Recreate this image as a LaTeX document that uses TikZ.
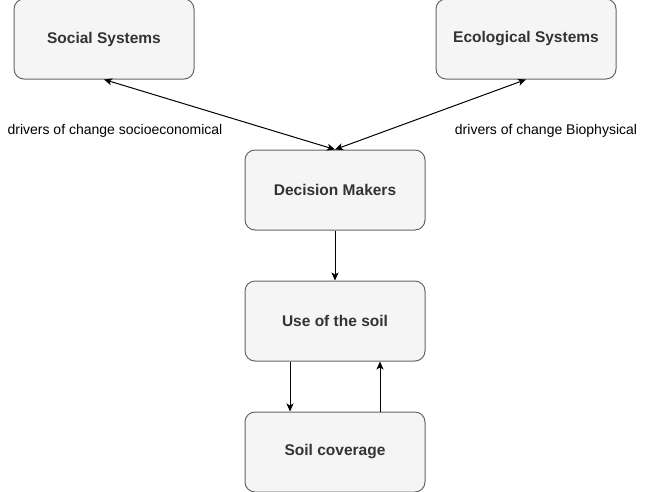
\documentclass[tikz,border=0pt]{standalone}
\usepackage{fontspec}
\setmainfont{Liberation Sans}
\usetikzlibrary{positioning,arrows.meta}
\definecolor{boxfill}{HTML}{F5F5F5}
\definecolor{boxline}{HTML}{666666}
\definecolor{boxtext}{HTML}{333333}

\begin{document}
\begin{tikzpicture}[
        x=1pt, y=1pt,
        node distance=50pt,
        box/.style={
            rectangle,
            draw=boxline,
            fill=boxfill,
            line width=1pt,
            text=boxtext,
            align=center,
            rounded corners=10pt,
            font=\bfseries\fontsize{15.5}{18}\selectfont,
            minimum width=180pt,
            minimum height=80pt,
            inner sep=3pt,
            anchor=center
        },
        driver/.style={
            text=black,
            font=\fontsize{14}{16}\selectfont,
            inner sep=0pt
        },
        arrow/.style={
            ->,
            >={Stealth[length=8pt,width=7pt,inset=2pt]},
            line width=1pt,
            color=black
        }
    ]
        \useasboundingbox (0,0) rectangle (646,-491);

        % Centre column
        \node[box] (decision) at (335,-190) {Decision Makers};
        \node[box] (use) [below=of decision] {Use of the soil};
        \node[box] (coverage) [below=of use] {Soil coverage};

        % Top row
        \node[box] (social) [above left=70pt and 50pt of decision] {Social Systems};
        \node[box] (ecological) [above right=70pt and 10pt of decision] {Ecological Systems};

        % Drivers
        \node[driver] (socio) at (115,-131) {drivers of change socioeconomical};
        \node[driver] (bio) at (546,-131) {drivers of change Biophysical};

        % Edges
        \draw[arrow, <->] (social.south) -- (decision.north);
        \draw[arrow, <->] (ecological.south) -- (decision.north);
        \draw[arrow] (decision) -- (use);
        \draw[arrow] ([xshift=-45pt]use.south) -- ([xshift=-45pt]coverage.north);
        \draw[arrow] ([xshift=45pt]coverage.north) -- ([xshift=45pt]use.south);

    \end{tikzpicture}
\end{document}
